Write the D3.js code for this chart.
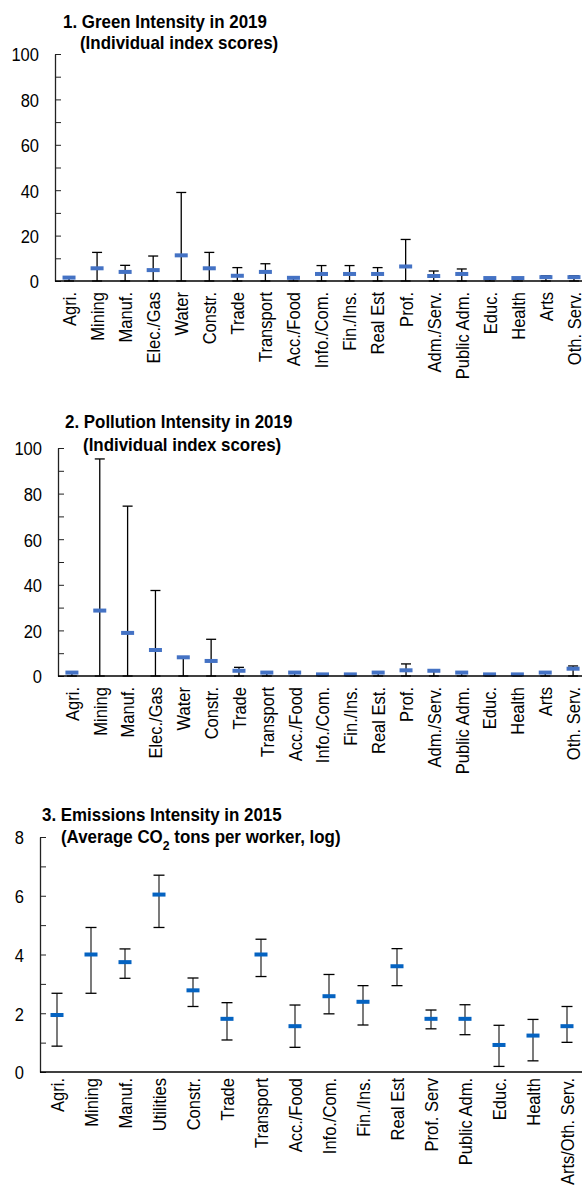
<!DOCTYPE html>
<html>
<head>
<meta charset="utf-8">
<script src="https://cdn.jsdelivr.net/npm/d3@7"></script>
<style>
  body { margin: 0; background: #fff; }
  text { font-family: "Liberation Sans", Arial, sans-serif; fill: #000; }
</style>
</head>
<body>
<div id="chartDiv"></div>
<script>
// Sector labels for each panel
var sectors1 = ["Agri.", "Mining", "Manuf.", "Elec./Gas", "Water", "Constr.", "Trade", "Transport", "Acc./Food",
     "Info./Com.", "Fin./Ins.", "Real Est", "Prof.", "Adm./Serv.", "Public Adm.", "Educ.", "Health", "Arts", "Oth. Serv."];
var sectors2 = ["Agri.", "Mining", "Manuf.", "Elec./Gas", "Water", "Constr.", "Trade", "Transport", "Acc./Food",
     "Info./Com.", "Fin./Ins.", "Real Est.", "Prof.", "Adm./Serv.", "Public Adm.", "Educ.", "Health", "Arts", "Oth. Serv."];
var sectors3 = ["Agri.", "Mining", "Manuf.", "Utilities", "Constr.", "Trade", "Transport", "Acc./Food", "Info./Com.",
     "Fin./Ins.", "Real Est", "Prof. Serv", "Public Adm.", "Educ.", "Health", "Arts/Oth. Serv."];

// 1. Green intensity: point estimate and range
var greenMid = [1.5, 5.6, 4.0, 4.8, 11.3, 5.6, 2.3, 4.0, 1.4, 3.1, 3.1, 3.1, 6.4, 2.2, 3.1, 1.3, 1.3, 1.7, 1.7];
var greenHi  = [1.5, 12.6, 6.9, 11.0, 39.0, 12.6, 5.9, 7.6, 1.4, 6.8, 6.8, 5.9, 18.3, 4.4, 5.3, 1.3, 1.3, 2.3, 2.3];
var greenLo  = [0, 0, 0, 0, 0, 0, 0, 0, 0, 0, 0, 0, 0, 0, 0, 0, 0, 0, 0];

// 2. Pollution intensity
var pollMid = [1.5, 28.7, 18.9, 11.4, 8.2, 6.6, 2.3, 1.5, 1.5, 0.7, 0.7, 1.5, 2.5, 2.3, 1.5, 0.7, 0.7, 1.5, 3.2];
var pollHi  = [1.5, 95.2, 74.5, 37.5, 8.2, 16.1, 3.8, 1.5, 1.5, 0.7, 0.7, 1.5, 5.3, 2.5, 1.5, 0.7, 0.7, 1.5, 4.4];
var pollLo  = [0, 0, 0, 0, 0, 0, 0, 0, 0, 0, 0, 0, 0, 0, 0, 0, 0, 0, 0];

// 3. Emissions intensity (log CO2 tons per worker)
var emisMid = [1.94, 4.0, 3.74, 6.04, 2.78, 1.81, 4.0, 1.56, 2.58, 2.39, 3.6, 1.81, 1.81, 0.92, 1.24, 1.56];
var emisHi  = [2.68, 4.92, 4.19, 6.7, 3.2, 2.36, 4.52, 2.28, 3.32, 2.94, 4.2, 2.11, 2.29, 1.59, 1.79, 2.23];
var emisLo  = [0.88, 2.68, 3.19, 4.92, 2.23, 1.09, 3.25, 0.84, 1.98, 1.6, 2.94, 1.47, 1.27, 0.19, 0.38, 1.01];

// Y tick values
var ticks100 = [0, 10, 20, 30, 40, 50, 60, 70, 80, 90, 100];
var ticks8 = [0, 1, 2, 3, 4, 5, 6, 7, 8];

let width = 582;
let height = 1185;
// horizontal squeeze to mimic the narrow font of the original
const squeeze = 0.87;
const titleSqueeze = 0.94;

let svg = d3.select("#chartDiv")
     .append("svg")
     .attr("width", width)
     .attr("height", height);

// draws one panel: y axis, x axis with rotated labels, whiskers and markers
function drawPanel(p) {
     let rows = p.cats.map(function(c, i) {
          return {cat: c, mid: p.mid[i], hi: p.hi[i], lo: p.lo[i]};
     });

     let scaleX = d3.scaleBand()
          .domain(p.cats)
          .range([p.x0, p.x1]);
     let scaleY = d3.scaleLinear()
          .domain([0, p.ymax])
          .range([p.yBottom, p.yTop]);

     // y axis (ticks inside, labels every other tick)
     let yAxis = svg.append("g")
          .attr("transform", "translate(" + p.x0 + ",0)")
          .call(d3.axisLeft(scaleY)
               .tickValues(p.ticks)
               .tickSize(-6)
               .tickSizeOuter(0)
               .tickFormat(function(d, i) { return i % 2 == 0 ? d : ""; }));
     yAxis.attr("font-family", null).attr("font-size", null);
     yAxis.select(".domain").attr("stroke", "#222").attr("stroke-width", 1.3);
     yAxis.selectAll(".tick line").attr("stroke", "#222");
     yAxis.selectAll("text")
          .style("font-size", "19px")
          .attr("transform", "scale(" + squeeze + ",1)")
          .attr("x", -16 / squeeze)
          .attr("dy", "0.36em")
          .attr("fill", "#000");

     // whiskers
     let g = svg.append("g");
     g.selectAll(".whisker")
          .data(rows)
          .enter()
          .append("line")
            .attr("x1", function(d) { return scaleX(d.cat) + scaleX.bandwidth() / 2; })
            .attr("x2", function(d) { return scaleX(d.cat) + scaleX.bandwidth() / 2; })
            .attr("y1", function(d) { return scaleY(d.lo); })
            .attr("y2", function(d) { return scaleY(d.hi); })
            .attr("stroke", p.whiskerColor)
            .attr("stroke-width", 1.3);
     // caps top and bottom
     ["hi", "lo"].forEach(function(k) {
          g.selectAll(".cap" + k)
               .data(rows)
               .enter()
               .append("line")
                 .attr("x1", function(d) { return scaleX(d.cat) + scaleX.bandwidth() / 2 - p.cap / 2; })
                 .attr("x2", function(d) { return scaleX(d.cat) + scaleX.bandwidth() / 2 + p.cap / 2; })
                 .attr("y1", function(d) { return scaleY(d[k]); })
                 .attr("y2", function(d) { return scaleY(d[k]); })
                 .attr("stroke", "#000")
                 .attr("stroke-width", 1.3);
     });

     // x axis with rotated category labels
     let xAxis = svg.append("g")
          .attr("transform", "translate(0," + p.yBottom + ")")
          .call(d3.axisBottom(scaleX).tickSize(0).tickSizeOuter(0));
     xAxis.attr("font-family", null).attr("font-size", null);
     xAxis.select(".domain")
          .attr("d", "M" + p.x0 + ",0H" + width)
          .attr("stroke", "#000")
          .attr("stroke-width", 1.5);
     xAxis.selectAll("text")
          .attr("transform", "rotate(-90) scale(" + squeeze + ",1)")
          .attr("text-anchor", "end")
          .attr("x", -p.labelGap / squeeze)
          .attr("y", 0)
          .attr("dy", "0.36em")
          .style("font-size", "19px")
          .attr("fill", "#000");

     // point markers
     g.selectAll(".marker")
          .data(rows)
          .enter()
          .append("rect")
            .attr("x", function(d) { return scaleX(d.cat) + scaleX.bandwidth() / 2 - 6.5; })
            .attr("y", function(d) { return scaleY(d.mid) - 2; })
            .attr("width", 13)
            .attr("height", 4)
            .attr("fill", p.color);

     // title, two lines
     let t = svg.append("g")
          .attr("transform", "scale(" + titleSqueeze + ",1)")
          .style("font-weight", "bold")
          .style("font-size", "18px");
     t.append("text")
          .attr("x", p.title1x / titleSqueeze)
          .attr("y", p.title1y)
          .text(p.title1);
     let t2 = t.append("text")
          .attr("x", p.title2x / titleSqueeze)
          .attr("y", p.title2y);
     p.title2.forEach(function(part) {
          let s = t2.append("tspan").text(part.text);
          if (part.sub) {
               s.attr("baseline-shift", "sub").style("font-size", "13px");
          }
     });
}

drawPanel({
     cats: sectors1, mid: greenMid, hi: greenHi, lo: greenLo,
     x0: 55, x1: 588, yTop: 54, yBottom: 281, ymax: 100, ticks: ticks100,
     color: "#4472C4", whiskerColor: "#000", cap: 10, labelGap: 11,
     title1: "1. Green Intensity in 2019", title1x: 63, title1y: 28,
     title2: [{text: "(Individual index scores)"}], title2x: 80, title2y: 49
});

drawPanel({
     cats: sectors2, mid: pollMid, hi: pollHi, lo: pollLo,
     x0: 58, x1: 587, yTop: 448, yBottom: 676, ymax: 100, ticks: ticks100,
     color: "#4472C4", whiskerColor: "#000", cap: 10, labelGap: 11,
     title1: "2. Pollution Intensity in 2019", title1x: 65, title1y: 428,
     title2: [{text: "(Individual index scores)"}], title2x: 83, title2y: 451
});

drawPanel({
     cats: sectors3, mid: emisMid, hi: emisHi, lo: emisLo,
     x0: 40, x1: 584, yTop: 837, yBottom: 1072, ymax: 8, ticks: ticks8,
     color: "#0563C1", whiskerColor: "#333", cap: 11, labelGap: 6,
     title1: "3. Emissions Intensity in 2015", title1x: 42, title1y: 821,
     title2: [{text: "(Average CO"}, {text: "2", sub: true}, {text: " tons per worker, log)"}], title2x: 61, title2y: 843
});
</script>
</body>
</html>
